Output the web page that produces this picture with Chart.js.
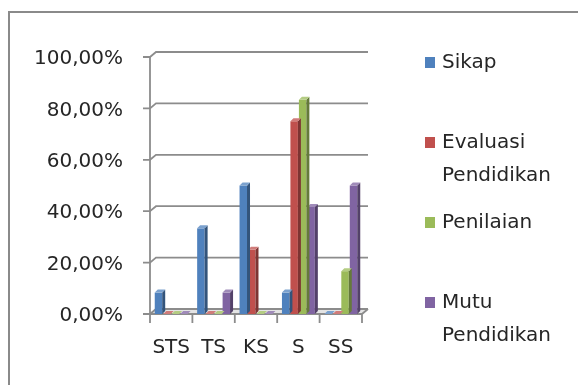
<!DOCTYPE html>
<html>
<head>
<meta charset="utf-8">
<script src="https://cdn.jsdelivr.net/npm/chart.js@4.4.1/dist/chart.umd.min.js"></script>
<style>
    html, body { margin: 0; padding: 0; background: #fff; overflow: hidden; }
    #chart { display: block; }
</style>
</head>
<body>
<canvas id="chart" width="578" height="385"></canvas>
<script>
const categories = ["STS", "TS", "KS", "S", "SS"];
const sikap = [8.33, 33.33, 50, 8.33, 0];
const evaluasiPendidikan = [0, 0, 25, 75, 0];
const penilaian = [0, 0, 0, 83.33, 16.67];
const mutuPendidikan = [0, 8.33, 0, 41.67, 50];
const seriesLabels = [["Sikap"], ["Evaluasi", "Pendidikan"], ["Penilaian"], ["Mutu", "Pendidikan"]];
const seriesColors = ["#4f81bd", "#c0504d", "#9bbb59", "#8064a2"];
const yTicks = [0, 20, 40, 60, 80, 100];

const FONT = "'DejaVu Sans', sans-serif";
const WALL_DX = 6;
const WALL_DY = 5;
const BAR_DEPTH = 3;

function shade(hex, f) {
    const n = parseInt(hex.slice(1), 16);
    const c = [(n >> 16) & 255, (n >> 8) & 255, n & 255].map(v =>
        f < 0 ? Math.round(v * (1 + f)) : Math.round(v + (255 - v) * f));
    return `rgb(${c[0]},${c[1]},${c[2]})`;
}

// outer frame, back wall, floor and axis lines drawn behind the bars
const walls = {
    id: "walls",
    beforeDatasetsDraw(chart) {
        const { ctx, chartArea: { left, right, bottom }, scales: { x, y } } = chart;
        ctx.save();
        ctx.strokeStyle = "#8a8a8a";
        ctx.lineWidth = 2;
        ctx.beginPath();
        ctx.moveTo(9, chart.height);
        ctx.lineTo(9, 12);
        ctx.lineTo(chart.width, 12);
        ctx.stroke();

        ctx.strokeStyle = "#8c8c8c";
        ctx.lineWidth = 1.8;
        ctx.fillStyle = "#e4e4e4";
        ctx.beginPath();
        ctx.moveTo(left, bottom);
        ctx.lineTo(left + WALL_DX, bottom - WALL_DY);
        ctx.lineTo(right + WALL_DX, bottom - WALL_DY);
        ctx.lineTo(right, bottom);
        ctx.closePath();
        ctx.fill();
        yTicks.forEach(v => {
            const py = y.getPixelForValue(v);
            ctx.beginPath();
            ctx.moveTo(left - 7, py);
            ctx.lineTo(left, py);
            ctx.lineTo(left + WALL_DX, py - WALL_DY);
            ctx.lineTo(right + WALL_DX, py - WALL_DY);
            ctx.stroke();
        });
        ctx.beginPath();
        ctx.moveTo(left, y.getPixelForValue(0) + 9);
        ctx.lineTo(left, y.getPixelForValue(100));
        ctx.moveTo(left, bottom);
        ctx.lineTo(right, bottom);
        ctx.lineTo(right + WALL_DX, bottom - WALL_DY);
        const step = x.getPixelForValue(1) - x.getPixelForValue(0);
        for (let i = 1; i <= categories.length; i++) {
            const px = x.getPixelForValue(i) - step / 2;
            ctx.moveTo(px, bottom);
            ctx.lineTo(px, bottom + 9);
        }
        ctx.stroke();
        ctx.restore();
    },
    // side and top faces of every bar
    afterDatasetDraw(chart, args) {
        const { ctx } = chart;
        const color = seriesColors[args.index];
        const d = BAR_DEPTH;
        ctx.save();
        args.meta.data.forEach(bar => {
            const { x, y, base, width } = bar.getProps(["x", "y", "base", "width"], true);
            const l = x - width / 2, r = x + width / 2;
            ctx.fillStyle = shade(color, -0.35);
            ctx.beginPath();
            ctx.moveTo(r, y);
            ctx.lineTo(r + d, y - d);
            ctx.lineTo(r + d, base - d);
            ctx.lineTo(r, base);
            ctx.closePath();
            ctx.fill();
            ctx.fillStyle = shade(color, 0.25);
            ctx.beginPath();
            ctx.moveTo(l, y);
            ctx.lineTo(l + d, y - d);
            ctx.lineTo(r + d, y - d);
            ctx.lineTo(r, y);
            ctx.closePath();
            ctx.fill();
        });
        ctx.restore();
    }
};

// legend on the right, entries spread evenly down the side
const sideLegend = {
    id: "sideLegend",
    afterDraw(chart) {
        const { ctx } = chart;
        ctx.save();
        ctx.font = `20px ${FONT}`;
        ctx.textBaseline = "middle";
        chart.data.datasets.forEach((ds, i) => {
            const top = 57 + i * 80;
            ctx.fillStyle = ds.backgroundColor;
            ctx.fillRect(425, top, 10, 11);
            ctx.fillStyle = "#262626";
            seriesLabels[i].forEach((line, j) => {
                ctx.fillText(line, 442, top + 6 + j * 33);
            });
        });
        ctx.restore();
    }
};

const seriesData = [sikap, evaluasiPendidikan, penilaian, mutuPendidikan];

new Chart(document.getElementById("chart"), {
    type: "bar",
    data: {
        labels: categories,
        datasets: seriesData.map((d, i) => ({
            label: seriesLabels[i].join(" "),
            data: d,
            backgroundColor: seriesColors[i],
            borderWidth: 0,
            barPercentage: 0.88,
            categoryPercentage: 0.8
        }))
    },
    options: {
        responsive: false,
        animation: false,
        layout: { padding: { top: 57, right: 216, left: 0, bottom: 0 } },
        plugins: { legend: { display: false }, tooltip: { enabled: false } },
        scales: {
            x: {
                grid: { display: false, drawTicks: false },
                border: { display: false },
                ticks: {
                    color: "#262626",
                    font: { family: FONT, size: 20 },
                    padding: 22,
                    maxRotation: 0,
                    minRotation: 0,
                    autoSkip: false
                },
                afterFit(scale) { scale.height = 71; }
            },
            y: {
                min: 0,
                max: 100,
                grid: { display: false, drawTicks: false },
                border: { display: false },
                ticks: {
                    stepSize: 20,
                    padding: 27,
                    labelOffset: 2,
                    color: "#262626",
                    font: { family: FONT, size: 20 },
                    callback: v => v.toFixed(2).replace(".", ",") + "%"
                },
                afterFit(scale) { scale.width = 150; }
            }
        }
    },
    plugins: [walls, sideLegend]
});
</script>
</body>
</html>
